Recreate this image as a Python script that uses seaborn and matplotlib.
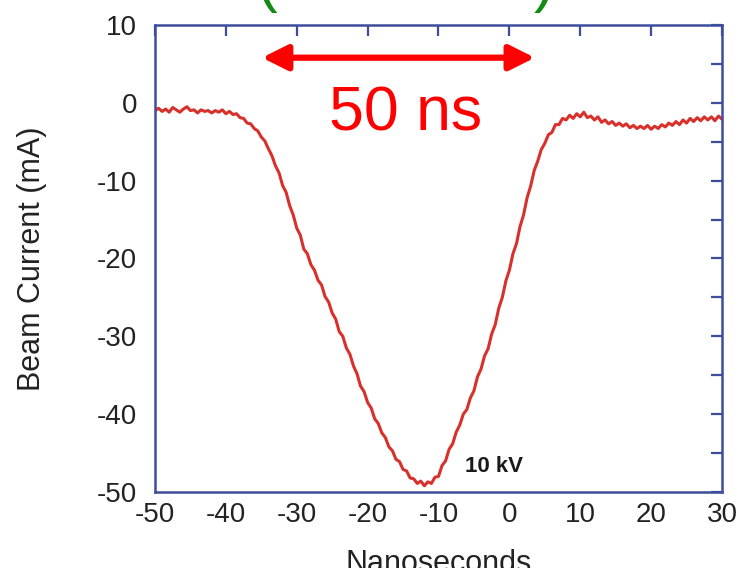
import numpy as np
import pandas as pd
import matplotlib
matplotlib.use("Agg")
import matplotlib.pyplot as plt
import seaborn as sns

# ---- data ----
time_ns = np.arange(-50, 30.25, 0.5)
beam_current_mA = [
    -1.0, -0.7, -1.1, -0.8, -1.2, -0.6, -0.9, -1.2, -0.8, -0.5,   # -50 .. -45.5
    -1.0, -0.9, -1.3, -0.9, -1.1, -1.0, -1.3, -1.0, -1.2, -0.9,   # -45 .. -40.5
    -1.4, -1.1, -1.5, -1.4, -1.9, -2.0, -2.6, -2.7, -3.3, -3.6,   # -40 .. -35.5
    -4.4, -4.9, -5.9, -6.8, -8.1, -9.0, -10.6, -11.5, -13.2, -14.4,  # -35 .. -30.5
    -16.1, -17.0, -18.8, -19.4, -20.8, -21.5, -22.8, -23.4, -24.9, -25.6,  # -30 .. -25.5
    -27.0, -27.8, -29.4, -30.0, -31.5, -32.3, -33.8, -34.8, -36.4, -37.1,  # -25 .. -20.5
    -38.5, -39.2, -40.6, -41.2, -42.4, -43.0, -44.2, -44.7, -45.8, -46.1,  # -20 .. -15.5
    -47.1, -47.3, -48.2, -48.3, -48.9, -48.6, -49.2, -48.7, -48.9, -48.1,  # -15 .. -10.5
    -48.0, -46.6, -46.0, -44.5, -43.8, -42.3, -41.4, -40.0, -39.4, -37.9,  # -10 .. -5.5
    -37.0, -35.2, -34.2, -32.5, -31.6, -29.7, -28.5, -26.4, -25.0, -22.9,  # -5 .. -0.5
    -21.5, -19.4, -18.1, -15.9, -14.4, -12.2, -10.7, -8.7, -7.5, -6.0,    # 0 .. 4.5
    -5.2, -4.1, -3.8, -2.8, -2.8, -2.0, -2.2, -1.6, -2.0, -1.4,           # 5 .. 9.5
    -1.8, -1.2, -1.9, -1.7, -2.2, -1.8, -2.5, -2.2, -2.7, -2.4,           # 10 .. 14.5
    -2.9, -2.6, -3.0, -2.7, -3.2, -2.9, -3.3, -3.0, -3.3, -2.9,           # 15 .. 19.5
    -3.4, -3.0, -3.3, -2.8, -3.1, -2.6, -2.9, -2.4, -2.8, -2.2,           # 20 .. 24.5
    -2.6, -2.0, -2.4, -1.9, -2.3, -1.8, -2.2, -1.8, -2.3, -1.7,           # 25 .. 29.5
    -2.1,                                                                  # 30
]
x_ticks = [-50, -40, -30, -20, -10, 0, 10, 20, 30]
y_ticks = [10, 0, -10, -20, -30, -40, -50]
arrow_span = [-34.9, 3.6]
arrow_y = 5.8
span_label = "50 ns"
voltage_label = "10 kV"

df = pd.DataFrame({"t": time_ns, "i": beam_current_mA})

# ---- style ----
sns.set_style("white")
plt.rcParams["font.family"] = ["Liberation Sans", "DejaVu Sans"]

spine_col = "#3d4d9c"
line_col = "#d8302a"

fig = plt.figure(figsize=(7.4, 5.68), dpi=100)
ax = fig.add_axes([155 / 740, 1 - 492 / 568, 567 / 740, 467 / 568])

sns.lineplot(data=df, x="t", y="i", ax=ax, color=line_col, linewidth=2.2)

ax.set_xlim(-50, 30)
ax.set_ylim(-50, 10)
ax.set_xticks(x_ticks)
ax.set_yticks(y_ticks)
ax.set_yticks([5, -5, -15, -25, -35, -45], minor=True)
ax.set_xticklabels([str(v) for v in x_ticks])
ax.set_yticklabels([str(v) for v in y_ticks])

for s in ax.spines.values():
    s.set_color(spine_col)
    s.set_linewidth(1.8)
    s.set_visible(True)

ax.tick_params(axis="both", which="both", direction="in", color=spine_col,
               width=1.6, length=8, top=True, right=True,
               labelsize=20, labelcolor="#222222")
ax.tick_params(axis="x", pad=7)
ax.tick_params(axis="y", pad=13)

ax.set_xlabel("Nanoseconds", fontsize=22, color="#222222")
ax.set_ylabel("Beam Current (mA)", fontsize=22, color="#222222")
ax.xaxis.set_label_coords(0.5, -0.122)
ax.yaxis.set_label_coords(-0.19, 0.5)

# red arrow
ax.annotate("", xy=(arrow_span[1], arrow_y), xytext=(arrow_span[0], arrow_y),
            arrowprops=dict(arrowstyle="<|-|>,head_length=0.9,head_width=0.45",
                            color="#ff0000", lw=4.5, mutation_scale=17,
                            shrinkA=0, shrinkB=0))
ax.text(-14.7, -3.5, span_label, color="#ff0000", fontsize=45,
        ha="center", va="baseline")
ax.text(-6.3, -47.4, voltage_label, color="#1a1a1a", fontsize=16,
        fontweight="bold", ha="left", va="baseline")

# partially clipped green title parentheses
fig.text(256 / 740, 1.0, "(", color="#138a13", fontsize=45, ha="left", va="baseline")
fig.text(554 / 740, 1.0, ")", color="#138a13", fontsize=45, ha="right", va="baseline")

fig.savefig("out.png", dpi=100)
